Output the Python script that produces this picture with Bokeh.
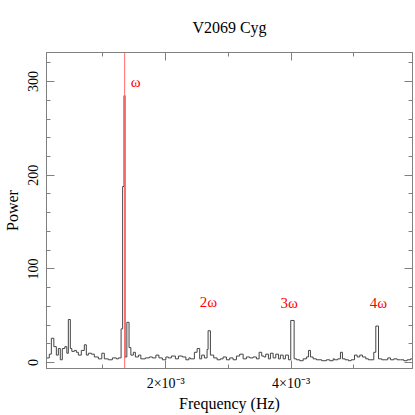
from bokeh.plotting import figure
from bokeh.models import Range1d, FixedTicker, LinearAxis, Span
from bokeh.embed import file_html
from bokeh.resources import INLINE
from bokeh.core.properties import value

# ---- data (frequency in mHz, power) : step spectrum ----
freq_mhz = [0.100, 0.145, 0.177, 0.217, 0.257, 0.289, 0.320, 0.352, 0.392, 0.424,
            0.448, 0.480, 0.504, 0.544, 0.576, 0.608, 0.655, 0.703, 0.735, 0.767,
            0.815, 0.863, 0.927, 0.982, 1.022, 1.086, 1.150, 1.214, 1.246, 1.289,
            1.314, 1.336, 1.352, 1.381, 1.416, 1.445, 1.485, 1.517, 1.565, 1.604,
            1.676, 1.740, 1.788, 1.844, 1.892, 1.947, 2.003, 2.043, 2.091, 2.155,
            2.203, 2.266, 2.322, 2.370, 2.394, 2.458, 2.501, 2.542, 2.574, 2.617,
            2.660, 2.676, 2.713, 2.766, 2.820, 2.872, 2.916, 2.968, 3.021, 3.075,
            3.128, 3.180, 3.235, 3.287, 3.340, 3.394, 3.447, 3.490, 3.531, 3.566,
            3.595, 3.638, 3.670, 3.713, 3.755, 3.798, 3.829, 3.873, 3.909, 3.957,
            3.994, 4.048, 4.085, 4.137, 4.192, 4.244, 4.276, 4.308, 4.351, 4.404,
            4.488, 4.563, 4.616, 4.670, 4.691, 4.743, 4.786, 4.818, 4.861, 4.914,
            4.957, 5.010, 5.053, 5.094, 5.137, 5.190, 5.233, 5.318, 5.350, 5.393,
            5.445, 5.499, 5.541, 5.584, 5.637, 5.691, 5.743, 5.796, 5.850, 5.903,
            5.935]
power = [5, 9, 26, 17, 8, 15, 3, 15, 17, 10,
         46, 15, 12, 13, 11, 8, 13, 19, 8, 10,
         9, 6, 4, 10, 4, 3, 5, 4, 5, 36,
         188, 285, 6, 43, 16, 8, 11, 6, 8, 4,
         5, 6, 5, 8, 5, 3, 6, 5, 7, 4,
         7, 6, 3, 5, 4, 11, 15, 4, 8, 5,
         14, 34, 8, 5, 3, 4, 6, 3, 5, 3,
         7, 9, 4, 6, 5, 6, 4, 11, 7, 6,
         9, 4, 10, 5, 9, 4, 8, 4, 8, 3,
         45, 4, 3, 2, 4, 6, 13, 6, 4, 3,
         2, 3, 2, 4, 3, 4, 11, 4, 3, 2,
         3, 8, 6, 8, 6, 4, 3, 11, 39, 4,
         3, 3, 5, 3, 4, 3, 3, 2, 3, 4,
         4]

omega_mhz = 1.346                     # spin frequency (1/743 s)
harm_labels = ["ω", "2ω", "3ω", "4ω"]
harm_label_mhz = [1.52, 2.68, 3.97, 5.39]
harm_label_power = [299, 65, 64, 64]

x_major_mhz = [2, 4]
x_minor_mhz = [1, 2, 3, 4, 5]
x_tick_text = ["2×10⁻³", "4×10⁻³"]
y_major = [0, 100, 200, 300]
y_minor = [0, 20, 40, 60, 80, 100, 120, 140, 160, 180, 200, 220, 240, 260, 280, 300, 320]

x_min_mhz, x_max_mhz = 0.100, 5.935
y_min, y_max = -6.3, 331

# ---- plot ----
to_hz = 1e-3
freq = [f * to_hz for f in freq_mhz]
FONT = "Liberation Serif"
GRAY = "#808080"

p = figure(width=415, height=415, output_backend="svg", toolbar_location=None,
           x_range=Range1d(x_min_mhz * to_hz, x_max_mhz * to_hz),
           y_range=Range1d(y_min, y_max),
           min_border_left=46, min_border_right=3, min_border_top=49, min_border_bottom=47,
           x_axis_label="Frequency (Hz)", y_axis_label="Power")
p.xgrid.visible = False
p.ygrid.visible = False
p.outline_line_color = GRAY
p.background_fill_color = "white"
p.border_fill_color = "white"

p.title.text = "V2069 Cyg"
p.title.align = "center"
p.title.text_font = FONT
p.title.text_font_size = "16px"
p.title.text_font_style = "normal"
p.title.text_color = "black"
p.title.standoff = 33

xt = FixedTicker(ticks=[v * to_hz for v in x_major_mhz], minor_ticks=[v * to_hz for v in x_minor_mhz])
yt = FixedTicker(ticks=y_major, minor_ticks=y_minor)

def style(ax):
    ax.axis_line_color = GRAY
    ax.major_tick_line_color = GRAY
    ax.minor_tick_line_color = GRAY
    ax.major_tick_in = 8
    ax.major_tick_out = 0
    ax.minor_tick_in = 4
    ax.minor_tick_out = 0
    ax.major_label_text_font = FONT
    ax.major_label_text_color = "black"
    ax.axis_label_text_font = FONT
    ax.axis_label_text_font_style = "normal"
    ax.axis_label_text_color = "black"

xa = p.xaxis[0]
xa.ticker = xt
style(xa)
xa.major_label_overrides = {v * to_hz: t for v, t in zip(x_major_mhz, x_tick_text)}
xa.major_label_text_font_size = "14px"
xa.major_label_standoff = 7
xa.axis_label_text_font_size = "16px"
xa.axis_label_standoff = 1

ya = p.yaxis[0]
ya.ticker = yt
style(ya)
ya.major_label_orientation = "vertical"
ya.major_label_text_font_size = "14px"
ya.major_label_standoff = 8
ya.axis_label_text_font_size = "16px"
ya.axis_label_standoff = 5

# tick-only frame axes on top and right (labels not drawn)
top = LinearAxis(ticker=xt)
style(top)
top.major_label_text_color = None
top.major_label_text_font_size = "1px"
top.major_label_standoff = 0
p.add_layout(top, "above")
right = LinearAxis(ticker=yt)
style(right)
right.major_label_text_color = None
right.major_label_text_font_size = "1px"
right.major_label_standoff = 0
p.add_layout(right, "right")

p.add_layout(Span(location=omega_mhz * to_hz, dimension="height", line_color="#ff6a6a", line_width=1))

p.step(freq, power, mode="after", line_color="#444444", line_width=1)

p.text(x=[f * to_hz for f in harm_label_mhz], y=harm_label_power, text=harm_labels,
       text_font=value(FONT), text_font_size="15px", text_color="red",
       text_align="center", text_baseline="middle")

open("out.html", "w").write(file_html(p, INLINE))
